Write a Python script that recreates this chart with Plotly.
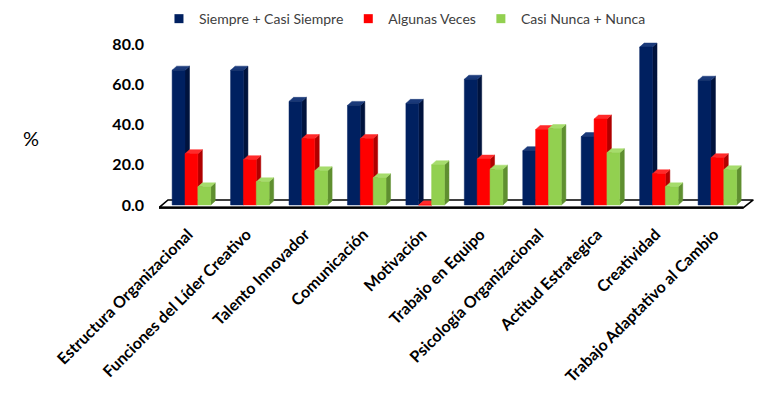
import plotly.graph_objects as go

categories = ["Estructura Organizacional", "Funciones del Líder Creativo", "Talento Innovador",
              "Comunicación", "Motivación", "Trabajo en Equipo", "Psicología Organizacional",
              "Actitud Estrategica", "Creatividad", "Trabajo Adaptativo al Cambio"]
siempre = [67.0, 67.0, 51.5, 49.5, 50.5, 62.5, 27.0, 34.0, 78.5, 62.0]
algunas = [25.5, 22.5, 33.0, 33.0, 0.0, 22.8, 37.5, 42.7, 15.5, 23.5]
nunca = [9.0, 11.5, 17.0, 13.5, 20.0, 17.8, 38.0, 26.0, 9.0, 17.5]
series_names = ["Siempre + Casi Siempre", "Algunas Veces", "Casi Nunca + Nunca"]
y_ticks = [0, 20, 40, 60, 80]

series = [siempre, algunas, nunca]
front_colors = ["#002060", "#FF0000", "#92D050"]
side_colors = ["#00133d", "#b00000", "#5f8f30"]
top_colors = ["#1b3a7a", "#ff2a2a", "#a6dc6c"]

W = 0.22      # bar width (category units)
START = -0.275
DX = 0.077    # depth in x
DY = 2.0      # depth in y

fig = go.Figure()

# floor
fx = [-0.5, 9.5, 9.67, -0.346, -0.5]
fy = [-1.3, -1.3, 2.5, 2.5, -1.3]
fig.add_trace(go.Scatter(x=[-0.5, 9.5], y=[-2.0, -2.0], mode="lines",
                         line=dict(color="#9a9a9a", width=1.5), hoverinfo="skip", showlegend=False))
fig.add_trace(go.Scatter(x=fx, y=fy, mode="lines", fill="toself", fillcolor="white",
                         line=dict(color="black", width=1.6), hoverinfo="skip", showlegend=False))
fig.add_trace(go.Scatter(x=[-0.5, 9.5], y=[-1.3, -1.3], mode="lines",
                         line=dict(color="black", width=2.2), hoverinfo="skip", showlegend=False))

for s, vals in enumerate(series):
    sx, sy, tx, ty, px, py = [], [], [], [], [], []
    for i, v in enumerate(vals):
        x0 = i + START + s * W
        x1 = x0 + W
        sx += [x1, x1 + DX, x1 + DX, x1, x1, None]
        sy += [0, DY, v + DY, v, 0, None]
        tx += [x0, x1, x1 + DX, x0 + DX, x0, None]
        ty += [v, v, v + DY, v + DY, v, None]
        px += [x0, x1, x1, x0, x0, None]
        py += [0, 0, v, v, 0, None]
    for xs, ys, col in ((sx, sy, side_colors[s]), (tx, ty, top_colors[s]), (px, py, front_colors[s])):
        fig.add_trace(go.Scatter(x=xs, y=ys, mode="lines", fill="toself", fillcolor=col,
                                 line=dict(color=col, width=0.5), hoverinfo="skip",
                                 showlegend=False))

for s, name in enumerate(series_names):
    fig.add_trace(go.Scatter(x=[None], y=[None], mode="markers", name=name,
                             marker=dict(symbol="square", size=9, color=front_colors[s])))

fig.update_layout(
    width=756, height=395,
    margin=dict(l=151, r=6, t=28, b=194, autoexpand=False),
    plot_bgcolor="white", paper_bgcolor="white",
    font=dict(family="Lato", color="black"),
    legend=dict(orientation="h", xref="container", yref="container",
                x=0.1997, y=0.972, xanchor="left", yanchor="middle",
                font=dict(family="Lato", size=14, color="#404040"),
                itemwidth=30, tracegroupgap=0),
    annotations=[dict(text="%", xref="paper", yref="paper", x=-0.214, y=0.41,
                      xanchor="center", yanchor="middle",
                      showarrow=False, font=dict(family="Lato", size=20, color="black"))],
)
fig.update_xaxes(range=[-0.5, 9.75], tickmode="array", tickvals=list(range(len(categories))),
                 ticktext=categories, tickangle=-45, showgrid=False, zeroline=False,
                 showline=False, ticks="", automargin=False, ticklabelstandoff=12,
                 tickfont=dict(family="Lato", size=16, color="black", weight="bold"))
fig.update_yaxes(range=[-2, 84], tickmode="array", tickvals=y_ticks,
                 ticktext=[f"{t:.1f}" for t in y_ticks], showgrid=False, zeroline=False,
                 showline=False, ticks="", ticklabelstandoff=14, automargin=False,
                 tickfont=dict(family="Lato", size=16, color="black", weight="bold"))

fig.write_html("out.html")
